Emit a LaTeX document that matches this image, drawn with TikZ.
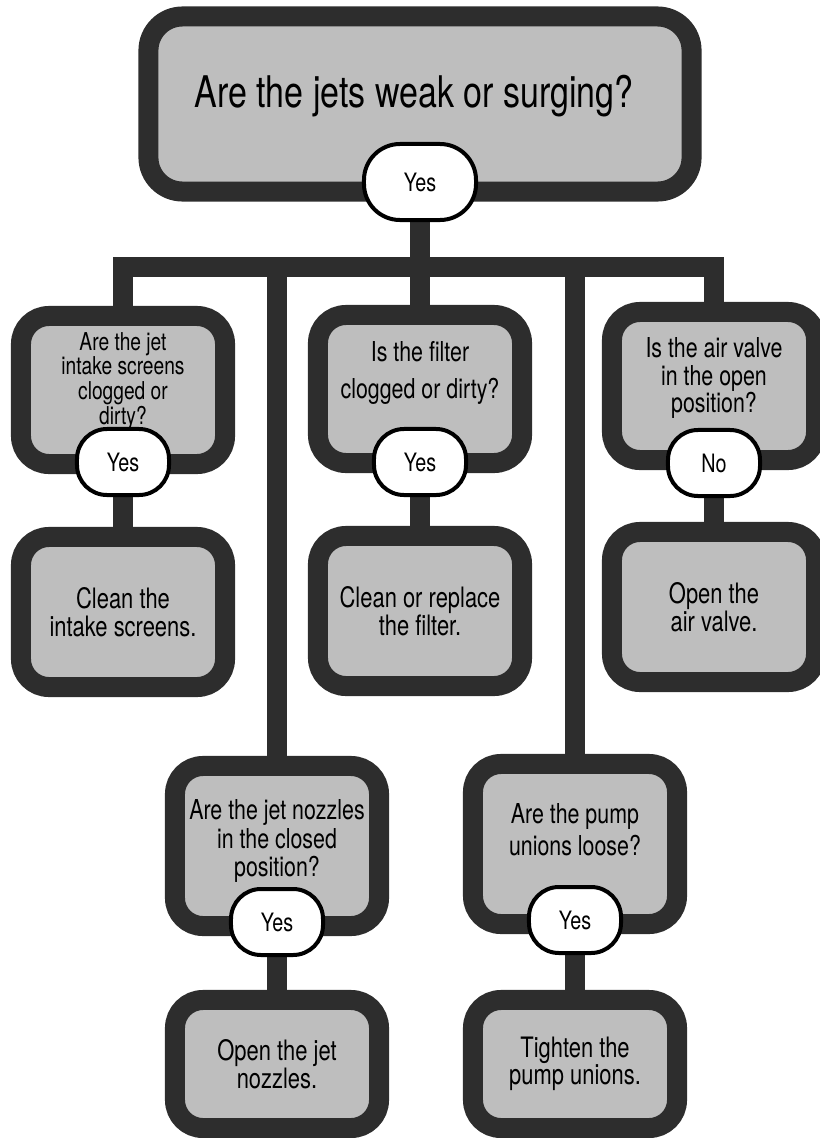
\documentclass[tikz,border=0pt]{standalone}
\usepackage{fontspec}
\setmainfont{TeX Gyre Heros}[FakeStretch=0.78]
\usepackage{xcolor}
\usetikzlibrary{positioning, backgrounds}
\definecolor{Frame}{RGB}{45, 45, 45}
\definecolor{Panel}{RGB}{190, 190, 190}

\tikzset{
    qbox/.style={rectangle, draw=Frame, fill=Panel, line width=0.5cm, rounded corners=0.7cm, minimum width=5.1cm, minimum height=3.7cm, inner sep=0pt},
    abox/.style={qbox, minimum height=3.75cm, align=center, font=\fontsize{20}{19.5}\selectfont},
    reply/.style={rectangle, draw=black, fill=white, line width=0.1cm, rounded corners=0.75cm, minimum width=2.3cm, minimum height=1.65cm, inner sep=0pt, font=\fontsize{18}{20}\selectfont},
    qtext/.style={align=center, inner sep=0pt},
    wire/.style={draw=Frame, line width=0.52cm}
}

\begin{document}
\begin{tikzpicture}[x=0.025cm, y=-0.025cm]
        \useasboundingbox (0, 0) rectangle (820, 1138);

        % Top question
        \node[qbox, minimum width=13.575cm, minimum height=4.375cm, rounded corners=0.85cm] (top) at (420, 104) {};
        \node[qtext, font=\fontsize{31}{32}\selectfont] (title) at (414, 96) {Are the jets weak or surging?};
        \node[reply, minimum width=2.8cm, minimum height=1.9cm, rounded corners=0.9cm] (yes0) at (420, 182) {Yes};

        % Intake screens
        \node[qbox] (q1) at (123, 390) {};
        \node[qtext, font=\fontsize{17.5}{17.5}\selectfont] (q1t) at (123, 381) {Are the jet\\intake screens\\clogged or\\dirty?};
        \node[reply] (yes1) at (123, 462) {Yes};
        \node[abox] (a1) at (123, 612) {Clean the\\intake screens.};

        % Filter
        \node[qbox] (q3) at (420, 389) {};
        \node[qtext, font=\fontsize{19.5}{26}\selectfont] (q3t) at (420, 373) {Is the filter\\clogged or dirty?};
        \node[reply] (yes3) at (420, 462) {Yes};
        \node[abox] (a3) at (420, 611) {Clean or replace\\the filter.};

        % Air valve
        \node[qbox] (q5) at (714, 386) {};
        \node[qtext, font=\fontsize{19.5}{19.5}\selectfont] (q5t) at (714, 378) {Is the air valve\\in the open\\position?};
        \node[reply] (no5) at (714, 463) {No};
        \node[abox] (a5) at (714, 607) {Open the\\air valve.};

        % Jet nozzles
        \node[qbox, minimum height=4cm] (q2) at (277, 846) {};
        \node[qtext, font=\fontsize{19.5}{20.5}\selectfont] (q2t) at (277, 841) {Are the jet nozzles\\in the closed\\position?};
        \node[reply] (yes2) at (277, 922) {Yes};
        \node[abox, minimum height=3.2cm] (a2) at (277, 1064) {Open the jet\\nozzles.};

        % Pump unions
        \node[qbox, minimum height=4cm] (q4) at (575, 844) {};
        \node[qtext, font=\fontsize{19.5}{23}\selectfont] (q4t) at (575, 830) {Are the pump\\unions loose?};
        \node[reply] (yes4) at (575, 920) {Yes};
        \node[abox, minimum height=3.2cm] (a4) at (575, 1064) {Tighten the\\pump unions.};

        % Connectors
        \begin{scope}[on background layer]
            \coordinate (hub) at (420, 267);
            \draw[wire] (yes0.south) -- (q3.north);
            \draw[wire] (q1.north) |- (hub) -| (q5.north);
            \draw[wire] (q2.north) -- (q2.north |- hub);
            \draw[wire] (q4.north) -- (q4.north |- hub);
            \foreach \r/\a in {yes1/a1, yes3/a3, no5/a5, yes2/a2, yes4/a4}
                \draw[wire] (\r.south) -- (\a.north);
        \end{scope}
    \end{tikzpicture}
\end{document}
